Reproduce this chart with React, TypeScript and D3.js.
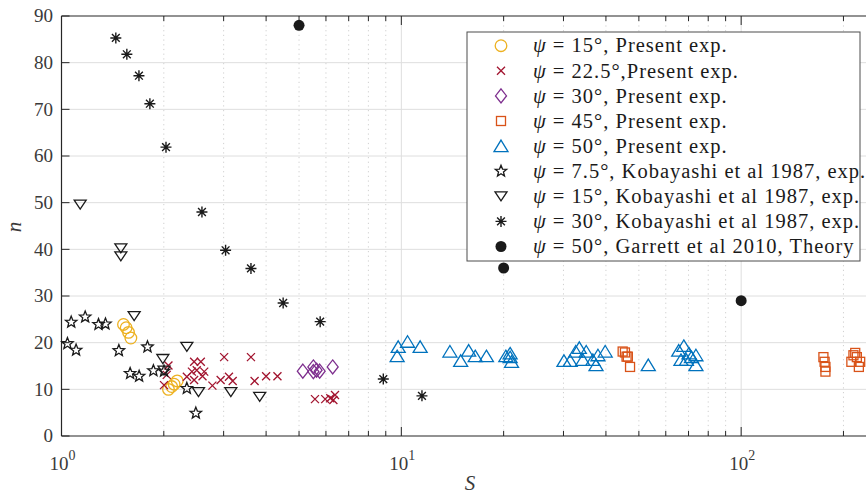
import React from "react";
import * as d3 from "d3";

// ---- data: [S, n] ----
const present15: [number, number][] = [
  [1.522, 23.9], [1.55, 23.2], [1.575, 22.2], [1.6, 21.0],
  [2.064, 10.0], [2.11, 10.6], [2.145, 11.1], [2.19, 11.8],
];
const present225: [number, number][] = [
  [2.064, 15.1], [2.04, 13.1], [2.003, 10.9], [2.338, 12.7], [2.456, 15.9], [2.57, 15.9],
  [2.42, 13.8], [2.5, 14.1], [2.63, 13.8], [2.456, 12.0], [2.6, 12.8], [2.78, 10.8],
  [2.94, 12.0], [3.01, 16.9], [3.11, 12.7], [3.19, 11.8], [3.61, 16.9], [3.7, 11.8],
  [4.0, 12.8], [4.32, 12.8], [5.57, 7.9], [5.97, 7.9], [6.18, 8.1], [6.38, 8.8], [6.31, 7.7],
];
const present30: [number, number][] = [
  [5.13, 13.9], [5.51, 14.8], [5.63, 14.1], [5.75, 13.9], [5.51, 13.8], [6.28, 14.8],
];
const present45: [number, number][] = [
  [44.8, 18.1], [45.5, 17.9], [46.0, 17.0], [46.4, 17.0], [47.1, 14.8],
  [174.6, 16.9], [176, 15.9], [177, 14.8], [177, 13.8],
  [216.6, 17.8], [211, 15.9], [219, 16.9], [222, 14.8], [214, 17.3], [224, 15.9],
];
const present50: [number, number][] = [
  [9.79, 19.1], [10.43, 20.2], [11.36, 19.1], [9.72, 17.1], [13.9, 18.1], [14.95, 16.1],
  [15.78, 18.3], [16.5, 17.1], [17.8, 17.1], [20.3, 17.1], [20.9, 17.7], [21.1, 15.9],
  [20.9, 16.9], [30.1, 16.1], [31.4, 16.1], [33.4, 18.9], [32.6, 18.1], [35.0, 18.1],
  [34.2, 16.3], [36.6, 16.3], [37.9, 17.3], [37.4, 15.2], [39.8, 18.1], [53.3, 15.2],
  [65.5, 18.3], [67.8, 19.3], [66.5, 16.3], [70.2, 17.7], [71.4, 16.9], [73.6, 17.3],
  [73.6, 15.2], [69.0, 16.3],
];
const koba75: [number, number][] = [
  [1.068, 24.4], [1.174, 25.5], [1.285, 23.9], [1.347, 24.0], [1.041, 19.8], [1.104, 18.4],
  [1.475, 18.3], [1.791, 19.1], [1.592, 13.4], [1.692, 12.8], [1.864, 14.0], [2.003, 13.9],
  [2.338, 10.2], [2.485, 4.9],
];
const koba15: [number, number][] = [
  [1.135, 49.6], [1.495, 40.2], [1.495, 38.5], [1.636, 25.7], [2.338, 19.1], [1.987, 16.5],
  [2.003, 14.0], [2.53, 9.4], [3.15, 9.4], [3.83, 8.4],
];
const koba30: [number, number][] = [
  [1.445, 85.3], [1.557, 81.8], [1.69, 77.2], [1.82, 71.2], [2.03, 61.9], [2.59, 48.0],
  [3.04, 39.8], [3.61, 35.9], [4.49, 28.5], [5.77, 24.5], [8.85, 12.2], [11.5, 8.6],
];
const garrett50: [number, number][] = [[5, 88], [20, 36], [100, 29]];

const yTicks = [0, 10, 20, 30, 40, 50, 60, 70, 80, 90];
const xMajor = [1, 10, 100];
const xMinor = [2, 3, 4, 5, 6, 7, 8, 9, 20, 30, 40, 50, 60, 70, 80, 90, 200];
const xExponents = ["0", "1", "2"];

const legendLabels = [
  "15°, Present exp.",
  "22.5°,Present exp.",
  "30°, Present exp.",
  "45°, Present exp.",
  "50°, Present exp.",
  "7.5°, Kobayashi et al 1987, exp.",
  "15°, Kobayashi et al 1987, exp.",
  "30°, Kobayashi et al 1987, exp.",
  "50°, Garrett et al 2010, Theory",
];

type Kind = "circle" | "x" | "diamond" | "square" | "triUp" | "star" | "triDown" | "asterisk" | "dot";

const seriesList: { data: [number, number][]; kind: Kind; color: string }[] = [
  { data: present15, kind: "circle", color: "#EDB120" },
  { data: present225, kind: "x", color: "#A2142F" },
  { data: present30, kind: "diamond", color: "#7E2F8E" },
  { data: present45, kind: "square", color: "#D95319" },
  { data: present50, kind: "triUp", color: "#0072BD" },
  { data: koba75, kind: "star", color: "#1a1a1a" },
  { data: koba15, kind: "triDown", color: "#1a1a1a" },
  { data: koba30, kind: "asterisk", color: "#1a1a1a" },
  { data: garrett50, kind: "dot", color: "#1a1a1a" },
];

function Marker({ kind, x, y, color }: { kind: Kind; x: number; y: number; color: string }) {
  const sw = 1.3;
  switch (kind) {
    case "circle":
      return <circle cx={x} cy={y} r={5.8} fill="none" stroke={color} strokeWidth={sw} />;
    case "x":
      return (
        <path d={`M${x - 4},${y - 4}L${x + 4},${y + 4}M${x - 4},${y + 4}L${x + 4},${y - 4}`} stroke={color} strokeWidth={sw} />
      );
    case "diamond":
      return <path d={`M${x},${y - 7}L${x + 5.5},${y}L${x},${y + 7}L${x - 5.5},${y}Z`} fill="none" stroke={color} strokeWidth={sw} />;
    case "square":
      return <rect x={x - 4.5} y={y - 4.5} width={9} height={9} fill="none" stroke={color} strokeWidth={sw} />;
    case "triUp":
      return <path d={`M${x},${y - 6}L${x + 7},${y + 5.5}L${x - 7},${y + 5.5}Z`} fill="none" stroke={color} strokeWidth={sw} />;
    case "triDown":
      return <path d={`M${x - 6},${y - 4.5}L${x + 6},${y - 4.5}L${x},${y + 4.5}Z`} fill="none" stroke={color} strokeWidth={sw} />;
    case "star": {
      const pts: string[] = [];
      for (let i = 0; i < 10; i++) {
        const r = i % 2 === 0 ? 6 : 2.6;
        const a = -Math.PI / 2 + (i * Math.PI) / 5;
        pts.push(`${x + r * Math.cos(a)},${y + r * Math.sin(a)}`);
      }
      return <polygon points={pts.join(" ")} fill="none" stroke={color} strokeWidth={sw} />;
    }
    case "asterisk": {
      const r = 5.5;
      const d = r * 0.7071;
      return (
        <path
          d={`M${x - r},${y}L${x + r},${y}M${x},${y - r}L${x},${y + r}M${x - d},${y - d}L${x + d},${y + d}M${x - d},${y + d}L${x + d},${y - d}`}
          stroke={color}
          strokeWidth={1.4}
        />
      );
    }
    case "dot":
      return <circle cx={x} cy={y} r={5.5} fill={color} />;
  }
  return null;
}

export default function App() {
  const W = 866;
  const H = 495;
  const left = 61.5;
  const right = 866;
  const top = 16;
  const bottom = 436;
  const x = d3.scaleLog().domain([1, 233]).range([left, right]);
  const y = d3.scaleLinear().domain([0, 90]).range([bottom, top]);
  const axisColor = "#262626";
  const serif = "'Liberation Serif', 'Times New Roman', serif";

  const legX = 467, legY = 32, legW = 393, legH = 229;
  const rowY0 = 45.7, rowDy = 25.1;

  return (
    <svg width={W} height={H} style={{ position: "absolute", left: 0, top: 0 }} fontFamily={serif}>
      <rect width={W} height={H} fill="#fff" />
      {/* minor vertical grid */}
      {xMinor.map((v) => (
        <line key={"mg" + v} x1={x(v)} x2={x(v)} y1={top} y2={bottom} stroke="#c4c4c4" strokeWidth={0.8} strokeDasharray="1.2,3.5" />
      ))}
      {/* major vertical grid */}
      {xMajor.slice(1).map((v) => (
        <line key={"Mg" + v} x1={x(v)} x2={x(v)} y1={top} y2={bottom} stroke="#dedede" strokeWidth={1} />
      ))}
      {/* horizontal grid */}
      {yTicks.slice(1, -1).map((v) => (
        <line key={"hg" + v} x1={left} x2={right} y1={y(v)} y2={y(v)} stroke="#dedede" strokeWidth={1} />
      ))}

      {/* ticks */}
      {yTicks.map((v) => (
        <line key={"yt" + v} x1={left} x2={left + 8} y1={y(v)} y2={y(v)} stroke={axisColor} strokeWidth={1} />
      ))}
      {xMajor.map((v) => (
        <g key={"xt" + v}>
          <line x1={x(v)} x2={x(v)} y1={bottom} y2={bottom - 9} stroke={axisColor} strokeWidth={1} />
          <line x1={x(v)} x2={x(v)} y1={top} y2={top + 9} stroke={axisColor} strokeWidth={1} />
        </g>
      ))}
      {xMinor.map((v) => (
        <g key={"xm" + v}>
          <line x1={x(v)} x2={x(v)} y1={bottom} y2={bottom - 5} stroke={axisColor} strokeWidth={1} />
          <line x1={x(v)} x2={x(v)} y1={top} y2={top + 5} stroke={axisColor} strokeWidth={1} />
        </g>
      ))}

      {/* axes box */}
      <line x1={left} x2={right} y1={bottom} y2={bottom} stroke={axisColor} strokeWidth={1.2} />
      <line x1={left} x2={right} y1={top} y2={top} stroke={axisColor} strokeWidth={1.2} />
      <line x1={left} x2={left} y1={top} y2={bottom} stroke={axisColor} strokeWidth={1.2} />

      {/* y tick labels */}
      {yTicks.map((v) => (
        <text key={"yl" + v} x={53} y={y(v)} dy="0.33em" textAnchor="end" fontSize={19} fill="#3a3a3a">
          {v}
        </text>
      ))}
      {/* x tick labels */}
      {xMajor.map((v, i) => (
        <text key={"xl" + v} x={x(v) + 1} y={470} textAnchor="middle" fontSize={19} fill="#3a3a3a">
          10
          <tspan dy={-10} fontSize={14}>{xExponents[i]}</tspan>
        </text>
      ))}

      {/* axis labels */}
      <text x={470} y={490} textAnchor="middle" fontSize={21} fontStyle="italic" fill="#3a3a3a">S</text>
      <text transform={`translate(21,227) rotate(-90)`} textAnchor="middle" fontSize={21} fontStyle="italic" fill="#3a3a3a">n</text>

      {/* data */}
      {seriesList.map((s, si) => (
        <g key={"s" + si}>
          {s.data.map((d, i) => (
            <Marker key={i} kind={s.kind} x={x(d[0])} y={y(d[1])} color={s.color} />
          ))}
        </g>
      ))}

      {/* legend */}
      <rect x={legX} y={legY} width={legW} height={legH} fill="#fff" stroke="#4d4d4d" strokeWidth={1} />
      {seriesList.map((s, i) => (
        <g key={"lg" + i}>
          <Marker kind={s.kind} x={501} y={rowY0 + i * rowDy} color={s.color} />
          <text x={533} y={rowY0 + i * rowDy} dy="0.33em" fontSize={20.5} letterSpacing={1} fill="#1a1a1a">
            <tspan fontStyle="italic">ψ</tspan>
            {" = " + legendLabels[i]}
          </text>
        </g>
      ))}
    </svg>
  );
}
